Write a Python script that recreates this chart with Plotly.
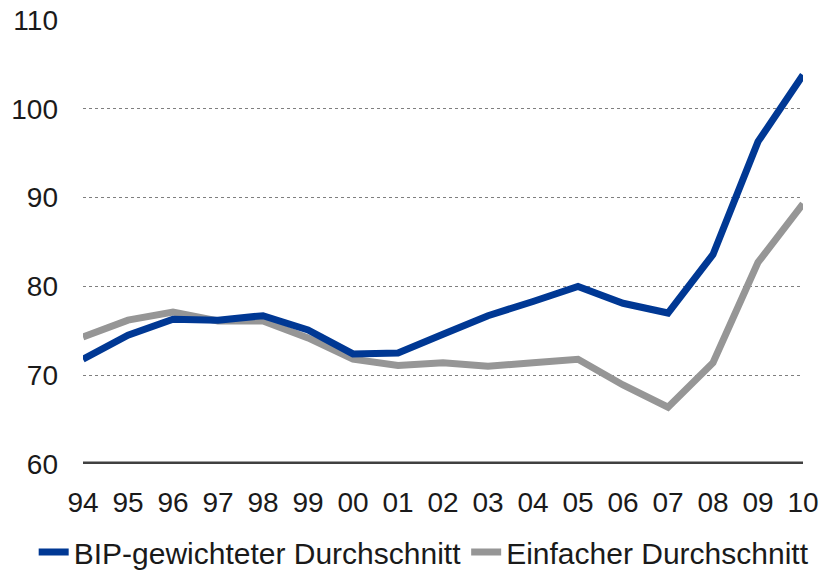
import plotly.graph_objects as go

years = ["94", "95", "96", "97", "98", "99", "00", "01", "02", "03", "04", "05", "06", "07", "08", "09", "10"]
bip_weighted = [71.8, 74.5, 76.3, 76.2, 76.7, 75.1, 72.4, 72.5, 74.6, 76.7, 78.3, 80.0, 78.1, 77.0, 83.6, 96.3, 103.8]
simple_avg = [74.3, 76.2, 77.1, 76.1, 76.1, 74.2, 71.8, 71.1, 71.4, 71.0, 71.4, 71.8, 68.9, 66.4, 71.4, 82.7, 89.3]
y_ticks = [60, 70, 80, 90, 100, 110]

x_idx = list(range(len(years)))

fig = go.Figure()
fig.add_trace(go.Scatter(x=x_idx, y=simple_avg, mode="lines",
                         name="Einfacher Durchschnitt",
                         line=dict(color="#969696", width=7)))
fig.add_trace(go.Scatter(x=x_idx, y=bip_weighted, mode="lines",
                         name="BIP-gewichteter Durchschnitt",
                         line=dict(color="#003894", width=7)))

fig.update_layout(
    width=823, height=571,
    margin=dict(l=83, r=20, t=20, b=107, autoexpand=False),
    paper_bgcolor="white", plot_bgcolor="white",
    font=dict(family="Liberation Sans, Arial, sans-serif", size=28, color="#1a1a1a"),
    showlegend=True,
    legend=dict(orientation="h", xref="paper", x=-0.0685, xanchor="left",
                yref="paper", y=-0.198, yanchor="middle",
                traceorder="reversed", font=dict(size=30),
                itemwidth=30, tracegroupgap=0,
                bgcolor="rgba(0,0,0,0)"),
    xaxis=dict(tickmode="array", tickvals=x_idx, ticktext=years,
               range=[0, len(years) - 1], showgrid=False, zeroline=False,
               showline=False, ticks="", automargin=False,
               ticklabelstandoff=19, ticklabeloverflow="allow"),
    yaxis=dict(range=[60, 110], tickvals=y_ticks, showgrid=True,
               gridcolor="#7f7f7f", griddash="dot", gridwidth=1,
               zeroline=False, showline=False, ticks="", automargin=False,
               ticklabelstandoff=24, ticklabeloverflow="allow"),
)
fig.add_hline(y=60, line=dict(color="#404040", width=5), layer="below")
fig.write_html("out.html", config={"displayModeBar": False},
               post_script="document.body.style.margin='0';")
